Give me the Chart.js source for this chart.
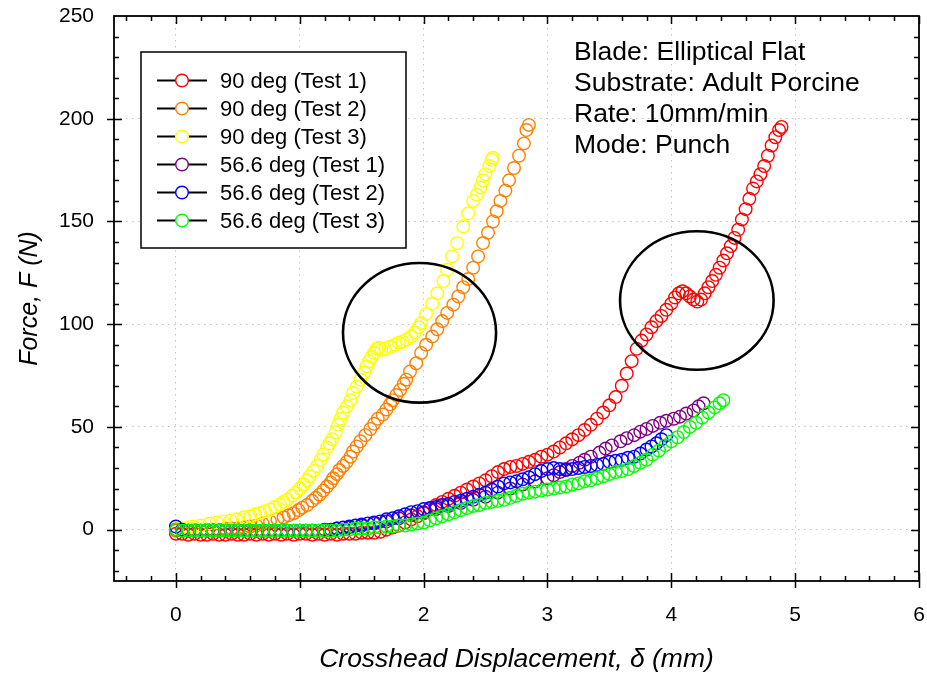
<!DOCTYPE html>
<html>
<head>
<meta charset="utf-8">
<script src="https://cdn.jsdelivr.net/npm/chart.js@4.4.1/dist/chart.umd.min.js"></script>
<style>
  html, body { margin: 0; padding: 0; background: #fff; }
  #wrap { width: 927px; height: 683px; }
</style>
</head>
<body>
<div id="wrap"><canvas id="chart" width="927" height="683"></canvas></div>
<script>
// series: [displacement (mm), force (N)]
var deg90t1 = [[0,-2],[0.05,-2],[0.1,-2.5],[0.15,-2],[0.2,-2.5],[0.25,-2.5],[0.3,-2],[0.35,-2.5],[0.4,-2.5],[0.45,-2],[0.5,-2.5],[0.55,-2.5],[0.6,-2],[0.65,-2.5],[0.7,-2],[0.75,-2.5],[0.8,-2],[0.85,-2.5],[0.9,-2],[0.95,-2.5],[1.0,-2],[1.05,-2],[1.1,-2.5],[1.15,-2],[1.2,-2.5],[1.25,-2],[1.3,-2.5],[1.35,-2],[1.4,-2],[1.45,-2],[1.5,-1.5],[1.55,-1.5],[1.6,-1.5],[1.65,-1],[1.7,0],[1.75,1],[1.8,2],[1.85,3.5],[1.9,5],[1.95,6.5],[2.0,8],[2.05,10],[2.1,12],[2.15,13.5],[2.2,15],[2.25,16.5],[2.3,18],[2.35,19.5],[2.4,21],[2.45,22.5],[2.5,24],[2.55,26],[2.6,28],[2.65,29.5],[2.7,30.5],[2.75,31],[2.8,32],[2.85,33],[2.9,34],[2.95,35.5],[3.0,36.5],[3.05,38],[3.1,40],[3.15,42],[3.2,44],[3.25,46],[3.3,48.5],[3.35,51],[3.4,54],[3.45,57],[3.5,60.5],[3.55,64.5],[3.6,70],[3.64,76],[3.68,82],[3.72,88],[3.76,92],[3.8,95],[3.84,98.5],[3.88,101.5],[3.92,104],[3.96,107],[4.0,110],[4.03,113],[4.06,115],[4.09,116],[4.12,115],[4.15,113.5],[4.18,112],[4.21,111],[4.24,112],[4.27,115],[4.3,118],[4.33,121],[4.36,124],[4.39,127.5],[4.42,131],[4.45,134.5],[4.48,138],[4.51,142],[4.54,146],[4.57,151],[4.6,156],[4.63,161],[4.66,166],[4.69,169.5],[4.72,173],[4.75,177],[4.78,182],[4.81,187],[4.84,191],[4.87,194.5],[4.89,196]];

var deg90t2 = [[0,-0.5],[0.05,-0.5],[0.1,-0.5],[0.15,0],[0.2,-0.5],[0.25,0],[0.3,0],[0.35,0],[0.4,0.5],[0.45,0.5],[0.5,0.5],[0.55,1],[0.6,1.5],[0.65,2],[0.7,3],[0.76,4],[0.82,5],[0.87,6],[0.91,7],[0.95,8],[0.99,9.5],[1.02,10.7],[1.06,12],[1.1,14],[1.13,15.5],[1.16,17],[1.19,19],[1.22,21],[1.25,23],[1.27,25],[1.3,27],[1.32,29],[1.35,31],[1.38,33],[1.41,35.5],[1.43,38],[1.46,40.5],[1.49,43],[1.53,46],[1.57,49],[1.6,51.5],[1.63,54],[1.67,56],[1.7,58.5],[1.73,61],[1.75,63],[1.78,65.5],[1.81,68],[1.84,71],[1.86,73],[1.89,77],[1.94,81],[1.98,86],[2.02,90],[2.07,94],[2.11,97.5],[2.15,101.5],[2.19,105.5],[2.24,109.5],[2.28,113.5],[2.32,118],[2.36,122],[2.4,127.5],[2.44,133],[2.48,139.5],[2.52,144.5],[2.56,150],[2.59,155],[2.62,160],[2.66,165],[2.69,170],[2.73,176],[2.77,182],[2.81,188],[2.83,194.5],[2.85,197]];

var deg90t3 = [[0,0.5],[0.05,0.5],[0.1,1],[0.14,1.5],[0.2,2],[0.27,3],[0.33,3.5],[0.38,4],[0.44,4.5],[0.49,5],[0.55,6],[0.6,6.5],[0.64,7.5],[0.68,8],[0.72,9],[0.76,9.7],[0.8,11],[0.84,12.2],[0.87,13.5],[0.9,14.6],[0.94,16.5],[0.97,18],[1.0,20],[1.03,22],[1.06,24],[1.08,26],[1.11,28.5],[1.14,31],[1.17,34],[1.19,36.5],[1.22,40],[1.24,42],[1.26,44],[1.29,47.5],[1.31,51],[1.33,54],[1.35,57],[1.38,60],[1.41,63],[1.43,66.5],[1.46,69.5],[1.49,73],[1.52,76.5],[1.54,79.5],[1.56,82],[1.58,84],[1.6,86],[1.62,88],[1.64,88.5],[1.66,87.5],[1.69,88],[1.73,89],[1.77,90],[1.8,91],[1.83,91.5],[1.86,92.5],[1.9,94],[1.93,96],[1.96,98.5],[1.98,100.5],[2.02,105],[2.07,110],[2.11,115],[2.16,121],[2.19,126.5],[2.23,133],[2.27,139.5],[2.32,147.5],[2.36,154],[2.4,160],[2.43,163],[2.46,166.5],[2.48,170],[2.5,173],[2.53,177],[2.55,180],[2.56,181]];

var deg56t1 = [[0,0],[0.05,-0.5],[0.1,-0.5],[0.15,-0.5],[0.2,-0.5],[0.3,-0.5],[0.4,-0.5],[0.5,-0.5],[0.6,-0.5],[0.7,-0.5],[0.8,-0.5],[0.9,-0.5],[1.0,-0.5],[1.1,-0.5],[1.2,0],[1.3,0.5],[1.4,1],[1.5,2],[1.6,3],[1.7,4],[1.8,5.5],[1.9,7],[2.0,8.5],[2.1,10],[2.2,11.5],[2.3,13],[2.4,14.5],[2.5,16],[2.6,18],[2.7,20],[2.8,22],[2.9,23.5],[3.0,25],[3.05,26.5],[3.1,28],[3.15,29.5],[3.2,31],[3.26,32.6],[3.3,34],[3.35,35.5],[3.42,37.5],[3.47,39.5],[3.52,41],[3.59,43],[3.64,44.5],[3.7,46],[3.75,47.7],[3.8,49],[3.85,50.5],[3.91,52],[3.96,53],[4.02,54],[4.07,55],[4.12,56.5],[4.18,58],[4.22,60],[4.26,61.5]];

var deg56t2 = [[0,1.5],[0.05,0],[0.1,-0.5],[0.15,-0.5],[0.2,-0.5],[0.25,-0.5],[0.3,-0.5],[0.35,-0.5],[0.4,-0.5],[0.45,-0.5],[0.5,-0.5],[0.55,-0.5],[0.6,-0.5],[0.65,-0.5],[0.7,-0.5],[0.75,-0.5],[0.8,-0.5],[0.85,-0.5],[0.9,-0.5],[0.95,-0.5],[1.0,-0.5],[1.05,-0.5],[1.1,-0.5],[1.15,-0.5],[1.2,-0.5],[1.25,0],[1.3,0.5],[1.35,1],[1.4,1.5],[1.45,2],[1.5,2.5],[1.55,3],[1.6,3.5],[1.65,4],[1.7,5],[1.75,5.5],[1.8,6.5],[1.85,7.5],[1.9,8.5],[1.95,9],[2.0,10],[2.05,10.5],[2.1,11],[2.15,12],[2.2,12.5],[2.25,13.5],[2.3,14],[2.35,15],[2.4,16],[2.45,17],[2.5,18],[2.55,19.5],[2.6,21],[2.65,22.5],[2.7,23],[2.75,23.5],[2.8,24.5],[2.85,25.5],[2.9,27],[2.95,28.5],[3.0,29.5],[3.05,30],[3.1,29.5],[3.15,29],[3.2,29.5],[3.25,30],[3.3,30.5],[3.35,31],[3.4,31.5],[3.45,32],[3.5,33],[3.55,33.5],[3.6,34],[3.65,35],[3.7,35.5],[3.75,37],[3.8,39],[3.84,40.5],[3.88,42],[3.92,44],[3.96,46]];

var deg56t3 = [[0,0],[0.05,-0.5],[0.1,-0.5],[0.15,-0.5],[0.2,-0.5],[0.25,-0.5],[0.3,-0.5],[0.35,-0.5],[0.4,-0.5],[0.45,-0.5],[0.5,-0.5],[0.55,-0.5],[0.6,-0.5],[0.65,-0.5],[0.7,-0.5],[0.75,-0.5],[0.8,-0.5],[0.85,-0.5],[0.9,-0.5],[0.95,-0.5],[1.0,-0.5],[1.05,-0.5],[1.1,-0.5],[1.15,-0.5],[1.2,-0.5],[1.25,-0.5],[1.3,-0.5],[1.35,0],[1.4,0],[1.45,0.5],[1.5,0.5],[1.55,0.5],[1.6,1],[1.65,1],[1.7,1.5],[1.75,1.5],[1.8,2],[1.85,2],[1.9,2.5],[1.95,3],[2.0,3.5],[2.05,4.5],[2.1,5.5],[2.15,6.5],[2.2,7.5],[2.25,8.5],[2.3,9.5],[2.35,10.5],[2.4,11.5],[2.45,12],[2.5,13],[2.55,13.5],[2.6,14],[2.65,14.5],[2.7,15.5],[2.75,16.5],[2.8,17.5],[2.85,18],[2.9,18.5],[2.95,19],[3.0,19.5],[3.05,20],[3.1,20.5],[3.15,21],[3.2,22],[3.25,22.5],[3.3,23.5],[3.35,24],[3.4,25],[3.45,26],[3.5,27],[3.55,28],[3.6,28.5],[3.65,29.5],[3.7,31],[3.75,32.5],[3.8,34],[3.85,36.5],[3.9,38.5],[3.95,41],[4.0,43],[4.05,45],[4.1,47.5],[4.15,50],[4.2,52],[4.25,54.5],[4.3,57],[4.35,59.5],[4.39,61.5],[4.42,63]];

var seriesNames = ['90 deg (Test 1)', '90 deg (Test 2)', '90 deg (Test 3)', '56.6 deg (Test 1)', '56.6 deg (Test 2)', '56.6 deg (Test 3)'];
var seriesColors = ['#ff0000', '#ff8000', '#ffff00', '#800080', '#0000ff', '#00ff00'];
var seriesData = [deg90t1, deg90t2, deg90t3, deg56t1, deg56t2, deg56t3];

var xTickVals = [0, 1, 2, 3, 4, 5, 6];
var yTickVals = [0, 50, 100, 150, 200, 250];

var notes = ['Blade: Elliptical Flat', 'Substrate: Adult Porcine', 'Rate: 10mm/min', 'Mode: Punch'];

// circled regions (centre and radii in data units)
var rings = [
  { x: 1.967, y: 95.8, rx: 0.618, ry: 34 },
  { x: 4.206, y: 111.5, rx: 0.62, ry: 33.7 }
];

var FONT = '"Liberation Sans", Arial, Helvetica, sans-serif';

var datasets = seriesData.map(function(s, i){
  return {
    label: seriesNames[i],
    data: s.map(function(p){ return { x: p[0], y: p[1] }; }),
    showLine: false,
    pointStyle: 'circle',
    pointRadius: 6.3,
    pointHoverRadius: 6.3,
    pointBorderWidth: 1.4,
    borderColor: seriesColors[i],
    backgroundColor: 'rgba(0,0,0,0)',
    order: 6 - i   // green ends up on top
  };
});

// don't let label overflow push the plot area around
function noOverflow(s){
  s.paddingTop = 0; s.paddingBottom = 0; s.paddingLeft = 0; s.paddingRight = 0;
}

// frame, ticks, circled regions, legend box and notes
var decorPlugin = {
  id: 'decor',
  afterDatasetsDraw: function(chart){
    var ctx = chart.ctx, a = chart.chartArea;
    var xs = chart.scales.x, ys = chart.scales.y;
    ctx.save();

    // ellipses
    ctx.strokeStyle = '#000';
    ctx.lineWidth = 2.6;
    rings.forEach(function(r){
      var cx = xs.getPixelForValue(r.x), cy = ys.getPixelForValue(r.y);
      var rx = xs.getPixelForValue(r.x + r.rx) - cx;
      var ry = cy - ys.getPixelForValue(r.y + r.ry);
      ctx.beginPath();
      ctx.ellipse(cx, cy, rx, ry, 0, 0, Math.PI * 2);
      ctx.stroke();
    });

    // box
    ctx.lineWidth = 1.8;
    ctx.strokeRect(a.left, a.top, a.right - a.left, a.bottom - a.top);

    // ticks
    ctx.lineWidth = 1.5;
    ctx.beginPath();
    var k, v, px, py;
    for (k = -2; k <= 30; k++) {
      v = k / 5;
      px = Math.round(xs.getPixelForValue(v)) + 0.5;
      if (k % 5 === 0) {
        ctx.moveTo(px, a.bottom + 7); ctx.lineTo(px, a.bottom - 8);
        ctx.moveTo(px, a.top); ctx.lineTo(px, a.top + 8);
      } else {
        ctx.moveTo(px, a.bottom); ctx.lineTo(px, a.bottom - 5);
        ctx.moveTo(px, a.top); ctx.lineTo(px, a.top + 5);
      }
    }
    for (k = -2; k <= 24; k++) {
      v = k * 10;
      py = Math.round(ys.getPixelForValue(v)) + 0.5;
      if (k % 5 === 0) {
        ctx.moveTo(a.left - 7, py); ctx.lineTo(a.left + 8, py);
        ctx.moveTo(a.right, py); ctx.lineTo(a.right - 8, py);
      } else {
        ctx.moveTo(a.left, py); ctx.lineTo(a.left + 5, py);
        ctx.moveTo(a.right, py); ctx.lineTo(a.right - 5, py);
      }
    }
    ctx.stroke();

    // legend
    var lx = a.left + 27, ly = a.top + 36, lw = 265, lh = 196;
    ctx.fillStyle = '#fff';
    ctx.fillRect(lx, ly, lw, lh);
    ctx.lineWidth = 1.5;
    ctx.strokeStyle = '#000';
    ctx.strokeRect(lx, ly, lw, lh);
    ctx.font = '22px ' + FONT;
    ctx.textBaseline = 'middle';
    ctx.textAlign = 'left';
    seriesNames.forEach(function(name, i){
      var ry = ly + 28.5 + i * 28;
      ctx.strokeStyle = '#000';
      ctx.lineWidth = 2;
      ctx.beginPath();
      ctx.moveTo(lx + 16, ry); ctx.lineTo(lx + 66, ry);
      ctx.stroke();
      ctx.fillStyle = '#fff';
      ctx.beginPath();
      ctx.arc(lx + 41, ry, 6.3, 0, Math.PI * 2);
      ctx.fill();
      ctx.strokeStyle = seriesColors[i];
      ctx.lineWidth = 1.4;
      ctx.stroke();
      ctx.fillStyle = '#000';
      ctx.fillText(name, lx + 79, ry + 1);
    });

    // notes
    ctx.font = '26.5px ' + FONT;
    ctx.textBaseline = 'alphabetic';
    ctx.fillStyle = '#000';
    notes.forEach(function(t, i){
      ctx.fillText(t, a.left + 460, a.top + 43.5 + i * 31);
    });

    ctx.restore();
  }
};

var chart = new Chart(document.getElementById('chart'), {
  type: 'scatter',
  data: { datasets: datasets },
  options: {
    responsive: false,
    animation: false,
    devicePixelRatio: 1,
    layout: { padding: { top: 16, right: 8, left: 0, bottom: 0 } },
    plugins: {
      legend: { display: false },
      tooltip: { enabled: false }
    },
    scales: {
      x: {
        type: 'linear',
        min: -0.5,
        max: 6,
        afterBuildTicks: function(s){ s.ticks = xTickVals.map(function(v){ return { value: v }; }); },
        afterFit: function(s){ s.height = 102; noOverflow(s); },
        ticks: {
          font: { size: 21, family: FONT },
          color: '#000',
          padding: 22,
          maxRotation: 0,
          callback: function(v){ return String(v); }
        },
        grid: { color: '#c4c4c4', lineWidth: 1, drawTicks: false },
        border: { display: false, dash: [1.5, 4.5] },
        title: {
          display: true,
          text: 'Crosshead Displacement, \u03b4 (mm)',
          color: '#000',
          font: { size: 26.5, style: 'italic', family: FONT },
          padding: { top: 0, bottom: 7 }
        }
      },
      y: {
        type: 'linear',
        min: -25,
        max: 250,
        afterBuildTicks: function(s){ s.ticks = yTickVals.map(function(v){ return { value: v }; }); },
        afterFit: function(s){ s.width = 114; noOverflow(s); },
        ticks: {
          font: { size: 21, family: FONT },
          color: '#000',
          padding: 20,
          callback: function(v){ return String(v); }
        },
        grid: { color: '#c4c4c4', lineWidth: 1, drawTicks: false },
        border: { display: false, dash: [1.5, 4.5] },
        title: {
          display: true,
          text: 'Force, F (N)',
          color: '#000',
          font: { size: 25, style: 'italic', family: FONT },
          padding: { top: 15, bottom: 0 }
        }
      }
    }
  },
  plugins: [decorPlugin]
});
</script>
</body>
</html>
